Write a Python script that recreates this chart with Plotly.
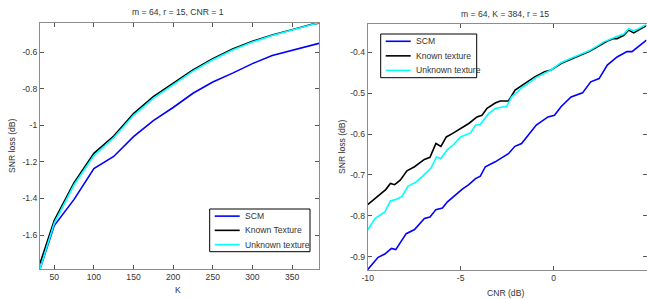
import plotly.graph_objects as go

# ---------- Left panel data (SNR loss vs K) ----------
K = [32, 50, 75, 100, 125, 150, 175, 200, 225, 250, 275, 300, 325, 350, 375, 384]
left_scm = [-1.786, -1.548, -1.405, -1.236, -1.170, -1.062, -0.974, -0.902, -0.824,
            -0.763, -0.714, -0.662, -0.618, -0.588, -0.560, -0.551]
left_known = [-1.756, -1.519, -1.314, -1.153, -1.058, -0.936, -0.843, -0.770, -0.696,
              -0.635, -0.582, -0.540, -0.505, -0.477, -0.446, -0.440]
left_unknown = [-1.786, -1.535, -1.325, -1.165, -1.068, -0.945, -0.852, -0.778, -0.703,
                -0.641, -0.587, -0.544, -0.508, -0.478, -0.446, -0.438]

# ---------- Right panel data (SNR loss vs CNR) ----------
cnr_known = [-10, -9.35, -9.03, -8.78, -8.55, -8.25, -7.89, -7.48, -6.95, -6.65, -6.33, -6.06,
             -5.77, -5.45, -5.05, -4.56, -4.12, -3.85, -3.58, -3.14, -2.87, -2.43, -2.07, -1.54,
             -1.01, -0.48, -0.13, 0.40, 0.94, 1.47, 1.91, 2.36, 2.89, 3.24, 3.42, 3.78, 4.04,
             4.31, 4.57, 5.0]
right_known = [-0.773, -0.748, -0.736, -0.721, -0.724, -0.713, -0.690, -0.680, -0.662, -0.657,
               -0.623, -0.630, -0.607, -0.599, -0.588, -0.574, -0.558, -0.554, -0.537, -0.524,
               -0.519, -0.519, -0.492, -0.476, -0.460, -0.447, -0.443, -0.427, -0.417, -0.407,
               -0.398, -0.386, -0.372, -0.366, -0.366, -0.358, -0.345, -0.352, -0.345, -0.334]

cnr_unknown = [-10, -9.61, -9.08, -8.78, -8.46, -8.14, -7.84, -7.39, -7.04, -6.6, -6.3, -6.06,
               -5.71, -5.36, -5.0, -4.47, -4.2, -3.94, -3.5, -3.14, -2.52, -2.26, -1.63, -0.93,
               -0.13, 0.40, 0.94, 1.47, 1.91, 2.36, 2.71, 3.33, 3.78, 4.04, 4.31, 4.57, 5.0]
right_unknown = [-0.835, -0.807, -0.791, -0.764, -0.760, -0.752, -0.728, -0.717, -0.703, -0.684,
                 -0.656, -0.660, -0.638, -0.625, -0.607, -0.597, -0.578, -0.576, -0.550, -0.537,
                 -0.532, -0.509, -0.484, -0.461, -0.443, -0.425, -0.414, -0.404, -0.396, -0.384,
                 -0.374, -0.362, -0.355, -0.342, -0.347, -0.342, -0.331]

cnr_scm = [-10, -9.44, -9.08, -8.72, -8.49, -7.93, -7.48, -6.95, -6.65, -6.33, -5.98, -5.71,
           -4.91, -4.56, -4.2, -3.94, -3.67, -3.14, -2.43, -2.08, -1.72, -1.37, -0.93, -0.3,
           0.05, 0.40, 0.94, 1.56, 2.0, 2.45, 2.89, 3.42, 3.95, 4.22, 4.84, 5.0]
right_scm = [-0.932, -0.902, -0.894, -0.880, -0.883, -0.844, -0.834, -0.807, -0.803, -0.785,
             -0.781, -0.766, -0.735, -0.724, -0.709, -0.703, -0.680, -0.668, -0.648, -0.630,
             -0.623, -0.603, -0.578, -0.558, -0.554, -0.533, -0.509, -0.499, -0.472, -0.464,
             -0.431, -0.411, -0.398, -0.398, -0.374, -0.370]

# ---------- Tick labels / legend labels ----------
left_xticks = [50, 100, 150, 200, 250, 300, 350]
left_yticks = [-1.6, -1.4, -1.2, -1.0, -0.8, -0.6]
left_yticklabels = ["-1.6", "-1.4", "-1.2", "-1", "-0.8", "-0.6"]
right_xticks = [-10, -5, 0, 5]
right_xticklabels = ["-10", "-5", "0", "5"]
right_yticks = [-0.9, -0.8, -0.7, -0.6, -0.5, -0.4]
right_yticklabels = ["-0.9", "-0.8", "-0.7", "-0.6", "-0.5", "-0.4"]
left_names = ["SCM", "Known Texture", "Unknown texture"]
right_names = ["SCM", "Known texture", "Unknown texture"]

BLUE = "#0000ff"
BLACK = "#000000"
CYAN = "#00ffff"
COLORS = [BLUE, BLACK, CYAN]
W, H = 647, 299
FONT = "Liberation Sans, Arial, sans-serif"
TXT = "#333333"
FS = 8.6
lw = 1.6

fig = go.Figure()
for xs, ys, nm, c in [(K, left_scm, left_names[0], BLUE), (K, left_known, left_names[1], BLACK),
                      (K, left_unknown, left_names[2], CYAN)]:
    fig.add_trace(go.Scatter(x=xs, y=ys, mode="lines", name=nm, showlegend=False,
                             line=dict(color=c, width=lw), xaxis="x", yaxis="y"))
for xs, ys, nm, c in [(cnr_scm, right_scm, right_names[0], BLUE),
                      (cnr_known, right_known, right_names[1], BLACK),
                      (cnr_unknown, right_unknown, right_names[2], CYAN)]:
    fig.add_trace(go.Scatter(x=xs, y=ys, mode="lines", name=nm, showlegend=False,
                             line=dict(color=c, width=lw), xaxis="x2", yaxis="y2"))

axis_common = dict(showline=True, linecolor="#8c8c8c", linewidth=1, mirror="ticks",
                   ticks="inside", ticklen=4, tickcolor="#555555", showgrid=False,
                   zeroline=False, automargin=False,
                   tickfont=dict(family=FONT, size=FS, color=TXT))

def px_dom(a, b, total):
    return [a / total, b / total]

fig.update_layout(
    width=W, height=H, margin=dict(l=0, r=0, t=0, b=0, autoexpand=False),
    paper_bgcolor="white", plot_bgcolor="white",
    showlegend=False, hovermode=False,
    xaxis=dict(domain=px_dom(40, 319, W), range=[32, 384], anchor="y",
               tickvals=left_xticks, ticktext=[str(v) for v in left_xticks], **axis_common),
    yaxis=dict(domain=[(H - 269) / H, (H - 22.7) / H], range=[-1.786, -0.438], anchor="x",
               tickvals=left_yticks, ticktext=left_yticklabels, **axis_common),
    xaxis2=dict(domain=px_dom(367.7, 646.5, W), range=[-10, 5], anchor="y2",
                tickvals=right_xticks, ticktext=right_xticklabels, **axis_common),
    yaxis2=dict(domain=[(H - 270) / H, (H - 24.3) / H], range=[-0.933, -0.331], anchor="x2",
                tickvals=right_yticks, ticktext=right_yticklabels, **axis_common),
)

def ann(text, x, y, angle=0, xanchor="center"):
    fig.add_annotation(text=text, x=x / W, y=(H - y) / H, xref="paper", yref="paper",
                       showarrow=False, xanchor=xanchor, yanchor="middle", textangle=angle,
                       font=dict(family=FONT, size=FS, color=TXT))

ann("m = 64, r = 15, CNR = 1", 178, 12)
ann("m = 64, K = 384, r = 15", 505, 14)
ann("K", 178, 289.5)
ann("CNR (dB)", 505, 292.5)
ann("SNR loss (dB)", 12, 146, -90)
ann("SNR loss (dB)", 342, 147, -90)

# ---------- Legend boxes (MATLAB style, compact) ----------
def legend_box(x0, y0, x1, y1, names):
    fig.add_shape(type="rect", xref="paper", yref="paper",
                  x0=x0 / W, x1=x1 / W, y0=(H - y1) / H, y1=(H - y0) / H,
                  line=dict(color="#000000", width=1), fillcolor="white", layer="above")
    step = (y1 - y0) / 3.0
    for i, (nm, c) in enumerate(zip(names, COLORS)):
        yc = y0 + step * (i + 0.5)
        fig.add_shape(type="line", xref="paper", yref="paper",
                      x0=(x0 + 5) / W, x1=(x0 + 30) / W, y0=(H - yc) / H, y1=(H - yc) / H,
                      line=dict(color=c, width=lw), layer="above")
        ann(nm, x0 + 33, yc, xanchor="left")

legend_box(209.7, 209, 310, 251.7, left_names)
legend_box(380.7, 34, 476.7, 77.7, right_names)

fig.write_html("out.html", config={"displayModeBar": False, "staticPlot": True},
               post_script="document.body.style.margin='0';document.body.style.overflow='hidden';")
